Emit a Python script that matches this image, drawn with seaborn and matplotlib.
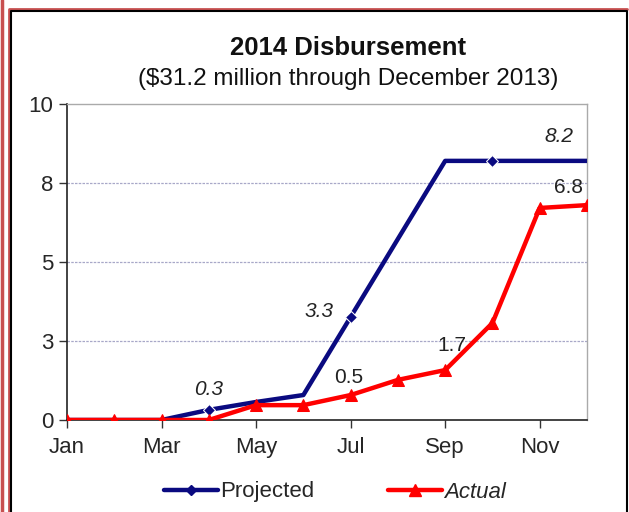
import matplotlib
matplotlib.use("Agg")
import matplotlib.pyplot as plt
from matplotlib.lines import Line2D
import seaborn as sns
import pandas as pd

# --- data ---
months = ["Jan", "Feb", "Mar", "Apr", "May", "Jun", "Jul", "Aug", "Sep", "Oct", "Nov", "Dec"]
projected = [0, 0, 0, 0.32, 0.57, 0.79, 3.26, 5.73, 8.2, 8.2, 8.2, 8.2]
actual = [0, 0, 0, 0, 0.47, 0.47, 0.79, 1.27, 1.58, 3.07, 6.71, 6.8]

tick_months = ["Jan", "Mar", "May", "Jul", "Sep", "Nov"]
y_ticks = [0, 2.5, 5, 7.5, 10]
y_tick_labels = ["0", "3", "5", "8", "10"]

# data labels: (month index, text, x offset px, y offset px)
proj_labels = [(3, "0.3", 0, 20), (6, "3.3", -32, 5), (9, "8.2", 66, 24)]
act_labels = [(6, "0.5", -2, 18), (8, "1.7", 7, 25), (10, "6.8", 29, 20)]
proj_marks = [3, 6, 9]

df = pd.DataFrame({"month": range(len(months)), "Projected": projected, "Actual": actual})

sns.set_style("white")
plt.rcParams["font.family"] = ["Liberation Sans", "DejaVu Sans"]

fig = plt.figure(figsize=(6.29, 5.12), dpi=100)
ax = fig.add_axes([67 / 629, 92 / 512, 520 / 629, 316 / 512])

blue = "#0A0A80"
red = "#FF0000"

# --- lines ---
sns.lineplot(data=df, x="month", y="Projected", ax=ax, color=blue, lw=3.2,
             marker="D", markersize=6, markevery=proj_marks, zorder=3)
sns.lineplot(data=df, x="month", y="Actual", ax=ax, color=red, lw=3.2,
             marker="^", markersize=9, markeredgecolor=red, zorder=4)

ax.set_xlim(0, 11)
ax.set_ylim(0, 10)
ax.set_xticks([months.index(m) for m in tick_months])
ax.set_xticklabels(tick_months, fontsize=16)
ax.set_yticks(y_ticks)
ax.set_yticklabels(y_tick_labels, fontsize=16)
ax.set_xlabel("")
ax.set_ylabel("")
ax.tick_params(axis="both", direction="out", length=6, width=1, color="#333333",
               left=True, bottom=True, pad=4)
ax.tick_params(axis="x", pad=6)

for v in y_ticks[1:-1]:
    ax.axhline(v, color="#A8A8C8", lw=0.9, ls=(0, (2, 1)), zorder=1)

for s in ["left", "bottom"]:
    ax.spines[s].set_color("#222222")
    ax.spines[s].set_linewidth(1.2)
for s in ["top", "right"]:
    ax.spines[s].set_color("#AAAAAA")
    ax.spines[s].set_linewidth(1.0)

# --- data labels ---
for i, txt, dx, dy in proj_labels:
    ax.annotate(txt, (i, projected[i]), xytext=(dx, dy), textcoords="offset pixels",
                ha="center", va="center", fontsize=15, style="italic", color="#222222")
for i, txt, dx, dy in act_labels:
    ax.annotate(txt, (i, actual[i]), xytext=(dx, dy), textcoords="offset pixels",
                ha="center", va="center", fontsize=15, color="#222222")

# --- titles ---
fig.text(348 / 629, 1 - 48 / 512, "2014 Disbursement", ha="center", va="center",
         fontsize=18.5, fontweight="bold", color="#111111")
fig.text(348 / 629, 1 - 79 / 512, "($31.2 million through December 2013)", ha="center",
         va="center", fontsize=17.5, color="#111111")

# --- legend ---
handles = [
    Line2D([], [], color=blue, lw=3.2, marker="D", markersize=5),
    Line2D([], [], color=red, lw=3.2, marker="^", markersize=8),
]
leg = fig.legend(handles, ["Projected", "Actual"], loc="center",
                 bbox_to_anchor=(335 / 629, 20 / 512), ncol=2, frameon=False,
                 fontsize=16, handlelength=2.45, handletextpad=0.1, columnspacing=3.3)
leg.get_texts()[1].set_fontstyle("italic")

# --- outer frame ---
fig.add_artist(Line2D([2 / 629, 2 / 629], [0, 1], color="#C85050", lw=2.5))
fig.add_artist(Line2D([9 / 629, 9 / 629, 627 / 629], [0, 1 - 9 / 512, 1 - 9 / 512],
                      color="#C85050", lw=2))
fig.add_artist(Line2D([11 / 629, 11 / 629, 627 / 629, 627 / 629],
                      [0, 1 - 11 / 512, 1 - 11 / 512, 0], color="black", lw=1.5))

fig.savefig("out.png", dpi=100)
